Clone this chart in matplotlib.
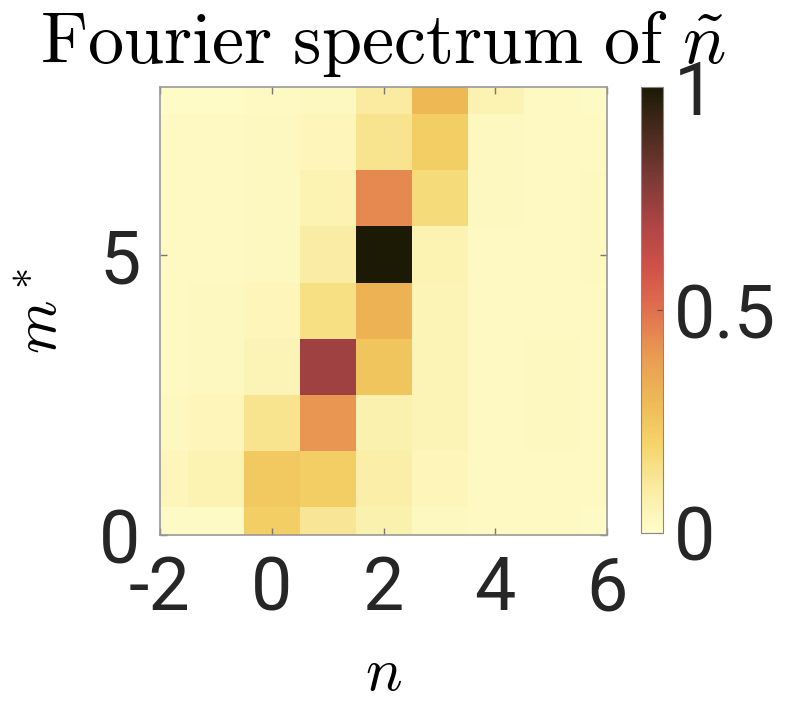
import numpy as np
import matplotlib
matplotlib.use("Agg")
import matplotlib.pyplot as plt
from matplotlib.colors import LinearSegmentedColormap

plt.rcParams["mathtext.fontset"] = "cm"
plt.rcParams["font.family"] = ["Roboto", "DejaVu Sans"]
plt.rcParams["axes.unicode_minus"] = False

# data: normalised Fourier amplitude, rows m* = 0..8, columns n = -2..6
n_vals = np.arange(-2, 7)
m_vals = np.arange(0, 9)
row_m0 = [0.015, 0.015, 0.22, 0.12, 0.07, 0.03, 0.02, 0.02, 0.015]
row_m1 = [0.04, 0.06, 0.24, 0.22, 0.08, 0.04, 0.02, 0.02, 0.02]
row_m2 = [0.03, 0.04, 0.13, 0.41, 0.07, 0.05, 0.02, 0.03, 0.02]
row_m3 = [0.02, 0.03, 0.05, 0.72, 0.25, 0.05, 0.02, 0.03, 0.02]
row_m4 = [0.02, 0.025, 0.04, 0.15, 0.32, 0.05, 0.02, 0.02, 0.02]
row_m5 = [0.02, 0.02, 0.03, 0.09, 1.00, 0.06, 0.02, 0.02, 0.03]
row_m6 = [0.02, 0.02, 0.03, 0.06, 0.44, 0.17, 0.03, 0.02, 0.03]
row_m7 = [0.02, 0.02, 0.03, 0.04, 0.13, 0.22, 0.03, 0.02, 0.02]
row_m8 = [0.01, 0.01, 0.02, 0.03, 0.10, 0.30, 0.06, 0.02, 0.015]
spectrum = np.array([row_m0, row_m1, row_m2, row_m3, row_m4,
                     row_m5, row_m6, row_m7, row_m8])

cmap = LinearSegmentedColormap.from_list("lajolla_like", [
    (0.0, "#FFFDCB"), (0.1, "#FAEBA0"), (0.2, "#F4D468"), (0.3, "#EEB855"),
    (0.4, "#E99A52"), (0.5, "#E0704E"), (0.6, "#CF5048"), (0.7, "#AA4444"),
    (0.8, "#7A3A35"), (0.9, "#4A2A1E"), (1.0, "#1C1A05")])

fig = plt.figure(figsize=(7.98, 7.04), dpi=100)
ax = fig.add_axes([0.2005, 0.240, 0.5602, 0.6364])
im = ax.imshow(spectrum, cmap=cmap, vmin=0, vmax=1, origin="lower",
               extent=[n_vals[0] - 0.5, n_vals[-1] + 0.5, m_vals[0] - 0.5, m_vals[-1] + 0.5],
               aspect="auto", interpolation="nearest")
ax.set_xlim(-2, 6); ax.set_ylim(0, 8)
ax.set_xticks([-2, 0, 2, 4, 6]); ax.set_yticks([0, 5])
ax.tick_params(direction="in", top=True, right=True, length=5, width=1,
               color="#777777", labelsize=53, labelcolor="#262626", pad=14)
for s in ax.spines.values():
    s.set_color("#999999"); s.set_linewidth(1.2)
ax.set_xlabel("$n$", fontsize=44, labelpad=13)
ax.set_ylabel("$m^*$", fontsize=44, labelpad=22)
ax.set_title(r"$\mathrm{Fourier\ spectrum\ of\ }\tilde{n}$", fontsize=52, pad=17)

cax = fig.add_axes([0.8033, 0.2429, 0.0276, 0.6335])
cb = fig.colorbar(im, cax=cax, ticks=[0, 0.5, 1])
cb.ax.set_yticklabels(["0", "0.5", "1"])
cb.ax.tick_params(direction="in", length=4, color="#555555", labelsize=53,
                  labelcolor="#262626", pad=8)
cb.outline.set_edgecolor("#888888")

fig.savefig("out.png", dpi=100)
